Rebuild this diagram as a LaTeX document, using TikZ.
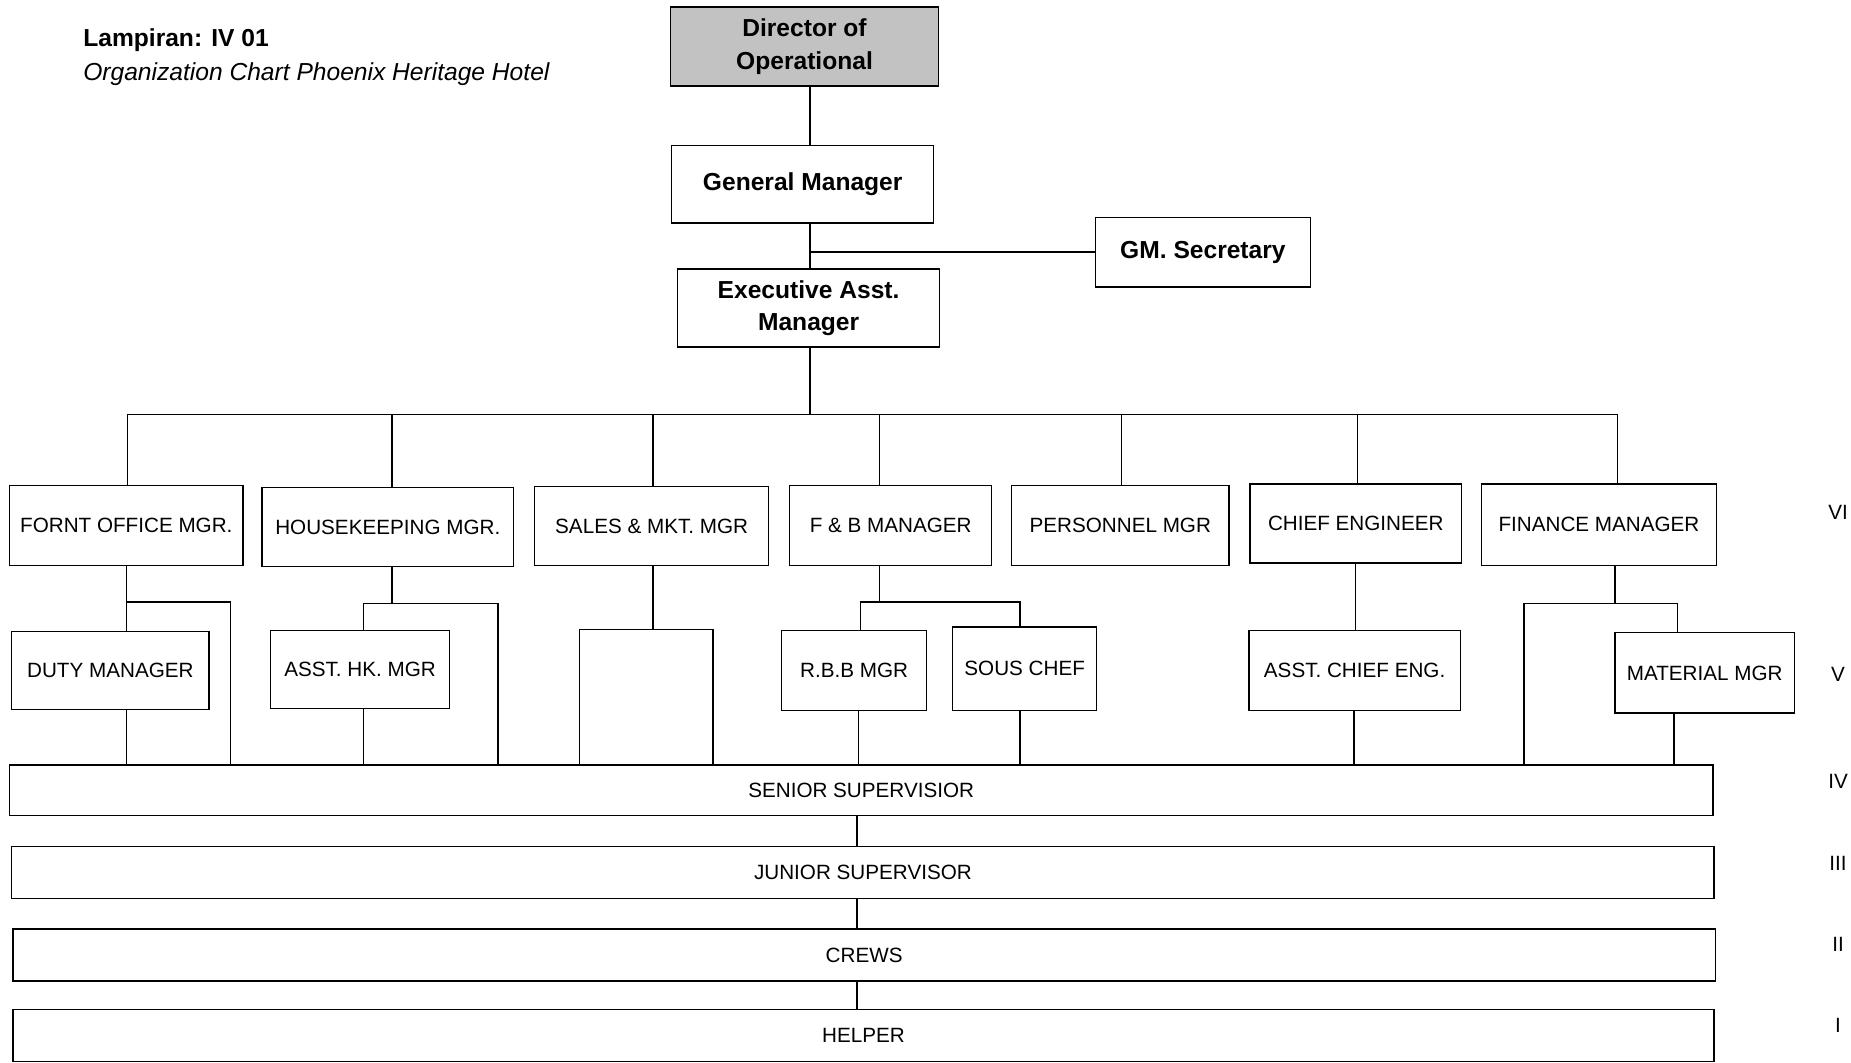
\documentclass[tikz,border=0pt]{standalone}
\usepackage{fontspec}
\setmainfont{Liberation Sans}
\usetikzlibrary{positioning, calc}

\begin{document}
\begin{tikzpicture}[x=0.6pt, y=-0.6pt, line width=0.7pt,
  box/.style n args={2}{draw=black, rectangle, inner sep=0pt, minimum width=#1*0.6pt,
                        minimum height=#2*0.6pt, align=center, font=\fontsize{10.5}{12}\selectfont},
  headbox/.style n args={2}{box={#1}{#2}, font=\fontsize{12.5}{16.5}\selectfont\bfseries},
  grade/.style={font=\fontsize{10.5}{12}\selectfont}]
  \useasboundingbox (0,0) rectangle (1568,900);

  % heading
  \node[anchor=west, inner sep=0pt, font=\fontsize{12.5}{15}\selectfont\bfseries] (lampiran) at (70,34) {Lampiran: IV 01};
  \node[anchor=west, inner sep=0pt, font=\fontsize{12.5}{15}\selectfont\itshape] (title) at (70,63) {Organization Chart Phoenix Heritage Hotel};

  % top management
  \node[headbox={227}{67}, fill=black!24] (dir) at (681.5,39.5) {Director of\\Operational};
  \node[headbox={222}{66}] (gm) at (680,156) {General Manager};
  \node[headbox={182}{59}] (sec) at (1019,213.5) {GM. Secretary};
  \node[headbox={222}{66}] (eam) at (685,261) {Executive Asst.\\Manager};

  \coordinate (trunk) at (686,351);
  \draw (dir.south -| trunk) -- (gm.north -| trunk);
  \draw (gm.south -| trunk) -- (eam.north -| trunk);
  \draw (eam.south -| trunk) -- (trunk);
  \draw (trunk |- sec.west) -- (sec.west);

  % department heads
  \node[box={198}{68}] (fo) at (107,445) {FORNT OFFICE MGR.};
  \node[box={213}{67}] (hk) at (328.5,446.5) {HOUSEKEEPING MGR.};
  \node[box={198}{67}] (sm) at (552,445.5) {SALES \& MKT. MGR};
  \node[box={171}{68}] (fb) at (754.5,445) {F \& B MANAGER};
  \node[box={184}{68}] (pm) at (949,445) {PERSONNEL MGR};
  \node[box={179}{67}] (ce) at (1148.5,443.5) {CHIEF ENGINEER};
  \node[box={199}{69}] (fm) at (1354.5,444.5) {FINANCE MANAGER};

  \coordinate (busl) at (108,351);
  \coordinate (busr) at (1370,351);
  \draw (busl) -- (busr);
  \foreach \dept/\x in {fo/108, hk/332, sm/553, fb/745, pm/950, ce/1150, fm/1370}
    \draw (\x,351) -- (\dept.north -| \x,0);

  % section heads
  \node[box={167}{66}] (dm) at (93.5,568) {DUTY MANAGER};
  \node[box={152}{66}] (ahk) at (305,567) {ASST. HK. MGR};
  \node[box={113}{115}] (smsub) at (547.5,590.5) {};
  \node[box={123}{68}] (rbb) at (723.5,568) {R.B.B MGR};
  \node[box={122}{71}] (sous) at (868,566.5) {SOUS CHEF};
  \node[box={179}{68}] (ace) at (1147.5,568) {ASST. CHIEF ENG.};
  \node[box={152}{68}] (mat) at (1444,570) {MATERIAL MGR};

  % grade bars
  \node[box={1443}{43}] (ss) at (729.5,669.5) {SENIOR SUPERVISIOR};
  \node[box={1442}{44}] (js) at (731,739) {JUNIOR SUPERVISOR};
  \node[box={1442}{44}] (cr) at (732,809) {CREWS};
  \node[box={1441}{44}] (hp) at (731.5,877) {HELPER};

  % front office
  \coordinate (foj) at (107,510);
  \coordinate (fob) at (195,510);
  \draw (fo.south -| foj) -- (dm.north -| foj);
  \draw (foj) -| (ss.north -| fob);
  \draw (dm.south -| foj) -- (ss.north -| foj);

  % housekeeping
  \coordinate (hkj) at (332,511);
  \coordinate (hka) at (308,511);
  \coordinate (hkb) at (422,511);
  \draw (hk.south -| hkj) -- (hkj);
  \draw (ahk.north -| hka) |- (hkb) -- (ss.north -| hkb);
  \draw (ahk.south -| hka) -- (ss.north -| hka);

  % sales
  \draw (sm.south -| 553,0) -- (smsub.north -| 553,0);

  % food and beverage
  \coordinate (fbj) at (745,510);
  \coordinate (fba) at (729,510);
  \coordinate (fbb) at (864,510);
  \draw (fb.south -| fbj) -- (fbj);
  \draw (rbb.north -| fba) |- (fbb) -- (sous.north -| fbb);
  \draw (rbb.south -| 727,0) -- (ss.north -| 727,0);
  \draw (sous.south -| fbb) -- (ss.north -| fbb);

  % engineering
  \draw (ce.south -| 1148,0) -- (ace.north -| 1148,0);
  \draw (ace.south -| 1147,0) -- (ss.north -| 1147,0);

  % finance
  \coordinate (fmj) at (1368,511);
  \coordinate (fma) at (1291,511);
  \coordinate (fmb) at (1421,511);
  \draw (fm.south -| fmj) -- (fmj);
  \draw (ss.north -| fma) |- (fmb) -- (mat.north -| fmb);
  \draw (mat.south -| 1418,0) -- (ss.north -| 1418,0);

  % grade links
  \coordinate (spine) at (726,0);
  \draw (ss.south -| spine) -- (js.north -| spine);
  \draw (js.south -| spine) -- (cr.north -| spine);
  \draw (cr.south -| spine) -- (hp.north -| spine);

  % grade numbers
  \foreach \g/\y in {VI/434, V/571, IV/662, III/731, II/800, I/869}
    \node[grade] (grade\g) at (1557,\y) {\g};
\end{tikzpicture}
\end{document}
